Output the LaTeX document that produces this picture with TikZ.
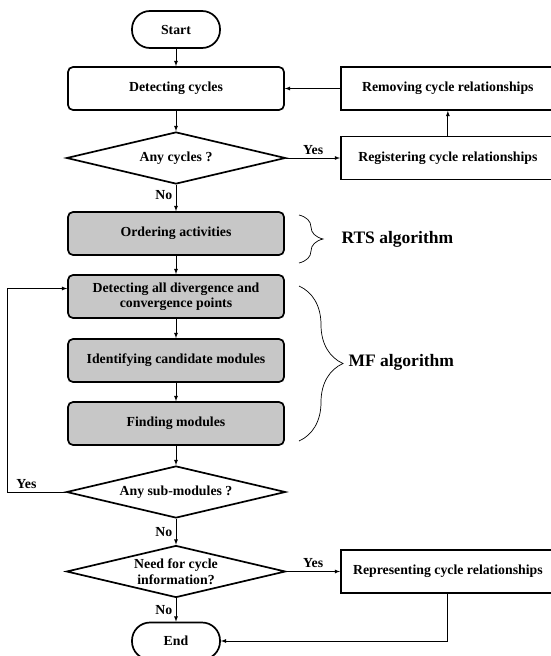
\documentclass[tikz,border=0pt]{standalone}
\usepackage{fontspec}
\setmainfont{Liberation Serif}
\usepackage{tikz}
\usetikzlibrary{arrows}
\usetikzlibrary{calc}
\usetikzlibrary{positioning}
\usetikzlibrary{shapes.geometric}
\usetikzlibrary{decorations, decorations.pathreplacing}

\tikzset{
	txt/.style={font=\fontsize{13.8}{15.5}\selectfont\bfseries},
	box/.style={draw, txt, line width=1.7pt, rounded corners=5pt, minimum width=216pt, minimum height=43pt, align=center},
	shadedbox/.style={box, fill=black!22},
	sidebox/.style={draw, txt, line width=1.7pt, minimum width=214pt, minimum height=43pt, anchor=west},
	decision/.style={diamond, aspect=4.2, draw, txt, line width=1.7pt, minimum width=219pt, minimum height=52pt, inner sep=0pt, align=center},
	terminal/.style={draw, txt, line width=1.7pt, rounded corners=18pt, minimum width=88pt, minimum height=37pt},
	flow/.style={-latex, line width=0.8pt},
	grouplabel/.style={font=\fontsize{17.5}{19}\selectfont\bfseries, anchor=west},
	grouping/.style={decorate, line width=0.7pt}
}

\begin{document}
\begin{tikzpicture}[x=1pt, y=-1pt]
	\useasboundingbox (0,0) rectangle (551,656);
	
	\node[terminal] (start) at (176,29.5) {Start};
	\node[box] (detect) at (176,88.5) {Detecting cycles};
	\node[decision] (anycyc) at (176,158) {Any cycles ?};
	\node[shadedbox] (order) at (176,233.5) {Ordering activities};
	\node[shadedbox] (diverg) at (176,296.5) {Detecting all divergence and\\convergence points};
	\node[shadedbox] (ident) at (176,360.5) {Identifying candidate modules};
	\node[shadedbox] (findmod) at (176,423.5) {Finding modules};
	\node[decision] (anysub) at (176,492) {Any sub-modules ?};
	\node[decision] (needinfo) at (176,571.5) {Need for cycle\\information?};
	\node[terminal] (end) at (176,641) {End};
	
	\node[sidebox] (removing) at (340,88.5) {Removing cycle relationships};
	\node[sidebox] (registering) at (340,158) {Registering cycle relationships};
	\node[sidebox] (representing) at (340,571.5) {Representing cycle relationships};
	
	\draw[flow] (start) -- (detect);
	\draw[flow] (detect) -- (anycyc);
	\draw[flow] (anycyc) -- node[txt, left, pos=0.4] {No} (order);
	\draw[flow] (anycyc.east) -- node[txt, above] {Yes} (registering.west);
	\draw[flow] (registering) -- (removing);
	\draw[flow] (removing.west) -- (detect.east);
	\draw[flow] (order) -- (diverg);
	\draw[flow] (diverg) -- (ident);
	\draw[flow] (ident) -- (findmod);
	\draw[flow] (findmod) -- (anysub);
	
	\coordinate (loopin) at ($(diverg.west)+(0,-8)$);
	\draw[flow] (anysub.west) -- ++(-58.5,0) node[txt, above, pos=0.67] {Yes} |- (loopin);
	\draw[flow] (anysub) -- node[txt, left] {No} (needinfo);
	\draw[flow] (needinfo) -- node[txt, left] {No} (end);
	\draw[flow] (needinfo.east) -- node[txt, above] {Yes} (representing.west);
	\draw[flow] (representing.south) |- (end.east);
	
	\draw[grouping, decoration={brace, amplitude=24pt}] (299,215) -- (299,263);
	\node[grouplabel] (rts) at (338,239) {RTS algorithm};
	\draw[grouping, decoration={brace, amplitude=44pt}] (299,286) -- (299,441);
	\node[grouplabel] (mf) at (345,362) {MF algorithm};
\end{tikzpicture}
\end{document}
